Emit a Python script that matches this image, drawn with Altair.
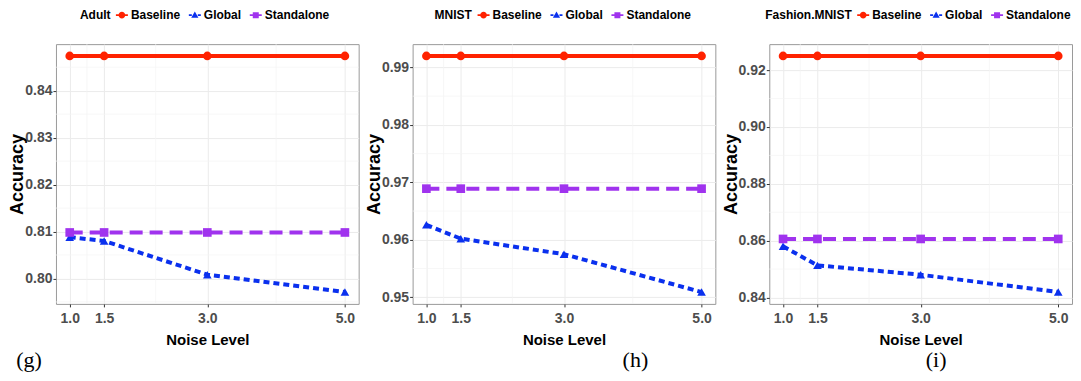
import altair as alt
import pandas as pd

# ---------------- data ----------------
noise = [1.0, 1.5, 3.0, 5.0]
series_names = ["Baseline", "Global", "Standalone"]
series_colors = ["#FF2200", "#0A30EE", "#A033EE"]
series_dash = [[1, 0], [6, 4], [13, 7]]
series_shapes = ["circle", "triangle-up", "square"]

adult_baseline = [0.8474, 0.8474, 0.8474, 0.8474]
adult_global = [0.8088, 0.8080, 0.8008, 0.7971]
adult_standalone = [0.8098, 0.8098, 0.8098, 0.8098]

mnist_baseline = [0.9920, 0.9920, 0.9920, 0.9920]
mnist_global = [0.9626, 0.9602, 0.9575, 0.9509]
mnist_standalone = [0.9689, 0.9689, 0.9689, 0.9689]

fmnist_baseline = [0.9250, 0.9250, 0.9250, 0.9250]
fmnist_global = [0.8580, 0.8513, 0.8480, 0.8419]
fmnist_standalone = [0.8606, 0.8606, 0.8606, 0.8606]

x_ticks = [1.0, 1.5, 3.0, 5.0]
x_minor = [1.25, 2.25, 4.0]
adult_ticks = [0.80, 0.81, 0.82, 0.83, 0.84]
adult_minor = [0.795, 0.805, 0.815, 0.825, 0.835, 0.845]
mnist_ticks = [0.95, 0.96, 0.97, 0.98, 0.99]
mnist_minor = [0.955, 0.965, 0.975, 0.985]
fmnist_ticks = [0.84, 0.86, 0.88, 0.90, 0.92]
fmnist_minor = [0.85, 0.87, 0.89, 0.91]

SANS = "'Liberation Sans', Arial, sans-serif"
SERIF = "'Liberation Serif', 'DejaVu Serif', serif"

# legend key glyphs (point drawn over a short line, as ggplot does)
BAR = "M-1,-0.15L1,-0.15L1,0.15L-1,0.15Z"
KEY_CIRCLE = BAR + " M0.55,0A0.55,0.55 0 1,1 -0.55,0A0.55,0.55 0 1,1 0.55,0Z"
KEY_TRI = ("M-1,-0.15L-0.5,-0.15L-0.5,0.15L-1,0.15Z M0.5,-0.15L1,-0.15L1,0.15L0.5,0.15Z "
           "M0,-0.6L0.6,0.45L-0.6,0.45Z")
KEY_SQUARE = BAR + " M-0.5,-0.5L0.5,-0.5L0.5,0.5L-0.5,0.5Z"
legend_keys = [KEY_CIRCLE, KEY_TRI, KEY_SQUARE]

PW, PH = 303, 260


def panel(title, base, glob, stand, yticks, yminor, caption, cap_x, legend_x):
    df = pd.DataFrame({
        "noise": noise * 3,
        "acc": base + glob + stand,
        "series": ["Baseline"] * 4 + ["Global"] * 4 + ["Standalone"] * 4,
    })
    lo, hi = df["acc"].min(), df["acc"].max()
    pad = 0.05 * (hi - lo)
    xscale = alt.Scale(domain=[0.8, 5.2], nice=False, zero=False)
    yscale = alt.Scale(domain=[lo - pad, hi + pad], nice=False, zero=False)

    xaxis = alt.Axis(values=x_ticks, format=".1f", title="Noise Level",
                     titleFont=SANS, titleFontSize=15, titleFontWeight="bold",
                     titleColor="black", titlePadding=7,
                     labelFont=SANS, labelFontSize=14, labelFontWeight="bold",
                     labelColor="#4D4D4D", labelPadding=5, labelFlush=False,
                     tickColor="#333333", tickSize=3, domain=False,
                     gridColor="#EBEBEB", gridWidth=1)
    yaxis = alt.Axis(values=yticks, format=".2f", title="Accuracy",
                     titleFont=SANS, titleFontSize=18, titleFontWeight="bold",
                     titleColor="black", titlePadding=-2,
                     labelFont=SANS, labelFontSize=14, labelFontWeight="bold",
                     labelColor="#4D4D4D", labelPadding=1,
                     tickColor="#333333", tickSize=3, domain=False,
                     gridColor="#EBEBEB", gridWidth=1)

    legend_kw = dict(title=title, orient="none", legendX=legend_x, legendY=-35,
                     direction="horizontal", titleOrient="left",
                     titleFont=SANS, titleFontSize=12, titleFontWeight="bold",
                     titleColor="black", titlePadding=5,
                     labelFont=SANS, labelFontSize=12, labelFontWeight="bold",
                     labelColor="black", labelOffset=3, columnPadding=8,
                     symbolSize=144, symbolStrokeWidth=0, padding=0)

    gx = alt.Chart(pd.DataFrame({"v": x_minor})).mark_rule(
        color="#F3F3F3", strokeWidth=0.7).encode(
        x=alt.X("v:Q", scale=xscale, axis=xaxis))
    gy = alt.Chart(pd.DataFrame({"v": yminor})).mark_rule(
        color="#F3F3F3", strokeWidth=0.7).encode(
        y=alt.Y("v:Q", scale=yscale, axis=yaxis))

    base_chart = alt.Chart(df)
    layers = [gx, gy]
    for name, col, dash in zip(series_names, series_colors, series_dash):
        layers.append(
            base_chart.transform_filter(alt.datum.series == name)
            .mark_line(strokeWidth=4, color=col, strokeDash=dash)
            .encode(x=alt.X("noise:Q", scale=xscale, axis=xaxis),
                    y=alt.Y("acc:Q", scale=yscale, axis=yaxis))
        )
    for name, col, shp in zip(series_names, series_colors, series_shapes):
        layers.append(
            base_chart.transform_filter(alt.datum.series == name)
            .mark_point(filled=True, opacity=1, size=75, color=col, shape=shp)
            .encode(x=alt.X("noise:Q", scale=xscale, axis=xaxis),
                    y=alt.Y("acc:Q", scale=yscale, axis=yaxis))
        )
    # legend-only layer (no rows drawn; the legend comes from the scales)
    layers.append(
        base_chart.transform_filter("false").mark_point(filled=True, opacity=1).encode(
            x=alt.X("noise:Q", scale=xscale, axis=xaxis),
            y=alt.Y("acc:Q", scale=yscale, axis=yaxis),
            color=alt.Color("series:N", scale=alt.Scale(domain=series_names, range=series_colors),
                            legend=alt.Legend(**legend_kw)),
            shape=alt.Shape("series:N", scale=alt.Scale(domain=series_names, range=legend_keys),
                            legend=alt.Legend(**legend_kw)),
        )
    )
    layers.append(
        alt.Chart(pd.DataFrame({"t": [caption]})).mark_text(
            font=SERIF, fontSize=22, color="black", align="center", baseline="middle"
        ).encode(x=alt.value(cap_x), y=alt.value(316), text="t:N")
    )
    return alt.layer(*layers).properties(width=PW, height=PH)


p1 = panel("Adult", adult_baseline, adult_global, adult_standalone,
           adult_ticks, adult_minor, "(g)", -27, 24)
p2 = panel("MNIST", mnist_baseline, mnist_global, mnist_standalone,
           mnist_ticks, mnist_minor, "(h)", 223, 22)
p3 = panel("Fashion.MNIST", fmnist_baseline, fmnist_global, fmnist_standalone,
           fmnist_ticks, fmnist_minor, "(i)", 167, -4)

chart = alt.hconcat(p1, p2, p3, spacing=54, bounds="flush", padding=0).resolve_scale(
    color="independent", shape="independent"
).resolve_legend(
    color="independent", shape="independent"
).configure_view(stroke="#9A9A9A", strokeWidth=1)

chart.save("out.html", embed_options={"renderer": "svg", "actions": False})
